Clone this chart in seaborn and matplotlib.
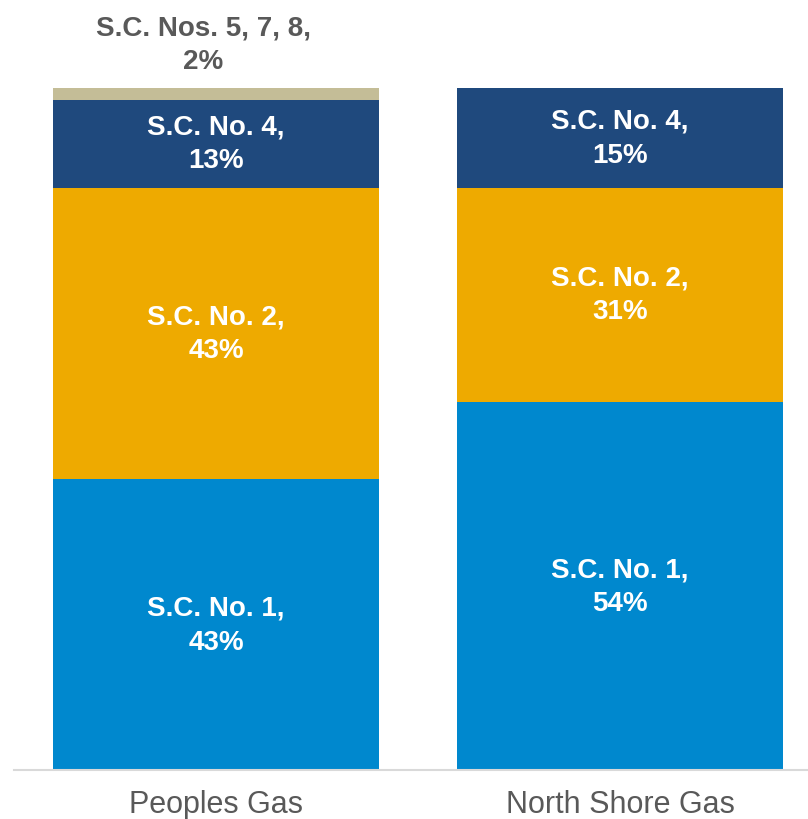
import matplotlib
matplotlib.use("Agg")
import matplotlib.pyplot as plt
import seaborn as sns
import pandas as pd
import numpy as np

companies = ["Peoples Gas", "North Shore Gas"]
classes = ["S.C. No. 1", "S.C. No. 2", "S.C. No. 4", "S.C. Nos. 5, 7, 8"]
peoples_values = [42.6, 42.8, 12.9, 1.7]
north_shore_values = [54.0, 31.4, 14.6, 0.0]
peoples_labels = ["43%", "43%", "13%", "2%"]
north_shore_labels = ["54%", "31%", "15%", ""]
colors = ["#0088CE", "#EEAA00", "#1F497D", "#C4BD97"]

sns.set_theme(style="white")
plt.rcParams["font.family"] = ["Liberation Sans", "DejaVu Sans"]

fig = plt.figure(figsize=(8.08, 8.2), dpi=100)
ax = fig.add_axes([14 / 808, 49 / 820, 808 / 808, 682 / 820])

df = pd.DataFrame({
    "company": np.repeat(companies, len(classes)),
    "cls": classes * len(companies),
    "value": peoples_values + north_shore_values,
    "label": peoples_labels + north_shore_labels,
})

bottoms = {c: 0.0 for c in companies}
for i, cls in enumerate(classes):
    sub = df[df["cls"] == cls].set_index("company").loc[companies].reset_index()
    bot = [bottoms[c] for c in companies]
    sns.barplot(data=sub, x="company", y="value", order=companies, color=colors[i],
                width=0.807, bottom=bot, ax=ax, saturation=1, linewidth=0, errorbar=None)
    for j, c in enumerate(companies):
        v = sub.loc[j, "value"]
        lab = sub.loc[j, "label"]
        if v <= 0:
            continue
        if v < 5:
            ax.annotate(f"{cls},\n{lab}", xy=(j, bot[j] + v), xytext=(-9, 10),
                        textcoords="offset points", ha="center", va="bottom",
                        fontsize=20, fontweight="bold", color="#595959",
                        linespacing=1.38, annotation_clip=False)
        else:
            ax.text(j, bot[j] + v / 2, f"{cls},\n{lab}", ha="center", va="center",
                    fontsize=20, fontweight="bold", color="white", linespacing=1.38)
        bottoms[c] += v

ax.set_xlim(-0.5, 1.5)
ax.set_ylim(0, 100)
ax.set_xlabel("")
ax.set_ylabel("")
ax.set_yticks([])
ax.tick_params(axis="x", length=0, labelsize=22, labelcolor="#595959", pad=14)
for s in ["top", "right", "left"]:
    ax.spines[s].set_visible(False)
ax.spines["bottom"].set_color("#D9D9D9")
ax.spines["bottom"].set_linewidth(1.5)

fig.savefig("out.png", dpi=100)
